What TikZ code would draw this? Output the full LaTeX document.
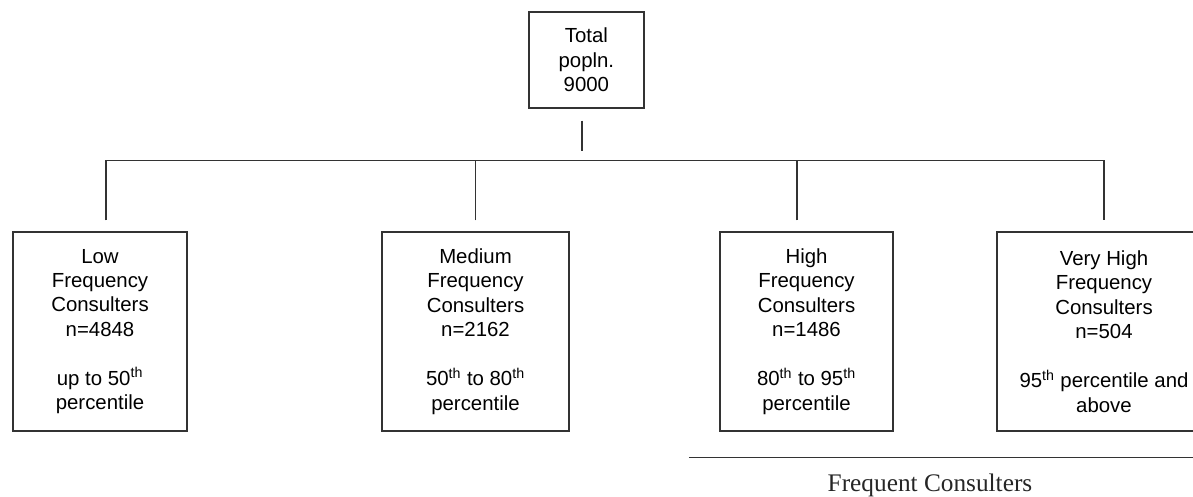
\documentclass[tikz,border=0pt]{standalone}
\usepackage{fontspec}
\setmainfont{Liberation Serif}
\newfontfamily\boxfont{Liberation Sans}
\tikzstyle{popn} = [rectangle, minimum width=2.875cm, minimum height=2.4cm, inner sep=0pt, align=center, draw=black!80, line width=0.9pt, font=\boxfont\fontsize{14.5}{17.4}\selectfont]
\tikzstyle{freq} = [rectangle, minimum height=4.975cm, inner sep=0pt, align=center, draw=black!80, line width=0.9pt, font=\boxfont\fontsize{14.5}{17.4}\selectfont]
\tikzstyle{link} = [draw=black!80, line width=0.9pt]
\begin{document}
\begin{tikzpicture} [node distance=2cm]
\useasboundingbox (0,0) rectangle (29.825,-12.4);
\clip (0,0) rectangle (29.825,-12.4);
\node (total) [popn] at (14.66,-1.5) {Total\\popln.\\9000};

\node (low) [freq, minimum width=4.35cm, below of=total, xshift=-12.16cm, yshift=-4.7875cm] {Low\\Frequency\\Consulters\\n=4848\\[17.4pt]up to 50\textsuperscript{th}\\percentile};
\node (med) [freq, minimum width=4.675cm, right of=low, xshift=7.3875cm] {Medium\\Frequency\\Consulters\\n=2162\\[17.4pt]50\textsuperscript{th} to 80\textsuperscript{th}\\percentile};
\node (high) [freq, minimum width=4.325cm, right of=med, xshift=6.275cm] {High\\Frequency\\Consulters\\n=1486\\[17.4pt]80\textsuperscript{th} to 95\textsuperscript{th}\\percentile};
\node (vhigh) [freq, minimum width=5.35cm, right of=high, xshift=5.4375cm] {Very High\\Frequency\\Consulters\\n=504\\[17.4pt]95\textsuperscript{th} percentile and\\above};

\node (fc) [text=black!85, font=\fontsize{18}{21}\selectfont, below of=high, xshift=3.0875cm, yshift=-1.8375cm] {Frequent Consulters};

\draw [link] ([xshift=-0.11cm, yshift=-0.3cm]total.south) -- ++(0,-0.75);
\draw [link] ([xshift=0.15cm, yshift=0.275cm]low.north) -- ++(0,1.5) -- ++(24.95,0) -- ++(0,-1.5);
\draw [link] ([yshift=0.275cm]med.north) -- ++(0,1.5);
\draw [link] ([xshift=-0.24cm, yshift=0.275cm]high.north) -- ++(0,1.5);

\draw [link] ([xshift=-2.94cm, yshift=-0.65cm]high.south) -- ++(12.7,0);
\end{tikzpicture}
\end{document}
